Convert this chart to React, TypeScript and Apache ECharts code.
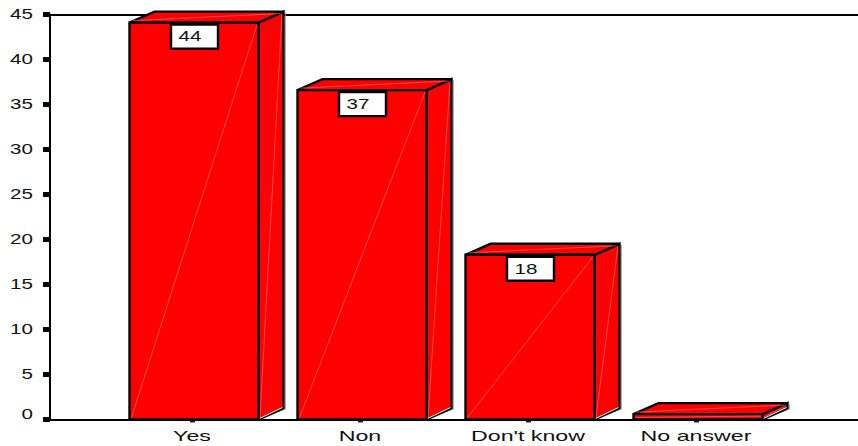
import React, { useEffect, useRef } from "react";
import * as echarts from "echarts";

const categories = ["Yes", "Non", "Don't know", "No answer"];
const barHeights = [44.1, 36.6, 18.3, 0.6];
const boxLabels = ["44", "37", "18", ""];
const yTicks = [0, 5, 10, 15, 20, 25, 30, 35, 40, 45];

const FONT = '14.5px "Liberation Sans", Arial, sans-serif';
const xMin = -142 / 168;
const xMax = 666 / 168;

export default function App() {
  const ref = useRef<HTMLDivElement>(null);
  useEffect(() => {
    const chart = echarts.init(ref.current!, undefined, { renderer: "svg" });
    const DX = 25;
    const DY = 11;
    const HALF = 64.5;
    const SHIFT = 2;
    const renderBar = (params: any, api: any) => {
      const i = api.value(0);
      const v = api.value(1);
      const c = api.coord([i, v]);
      const b = api.coord([i, 0]);
      const l = c[0] + SHIFT - HALF;
      const r = c[0] + SHIFT + HALF;
      const t = c[1];
      const y0 = b[1];
      const border = { stroke: "#000", lineWidth: 2.4, lineJoin: "miter" };
      const children: any[] = [
        {
          type: "polyline",
          shape: { points: [[r + DX + 1.8, t - DY + 1], [r + DX + 1.8, y0 - DY + 1]] },
          style: { stroke: "#999", lineWidth: 1, fill: "none" },
        },
        {
          type: "polygon",
          shape: { points: [[r, t], [r + DX, t - DY], [r + DX, y0 - DY], [r, y0]] },
          style: { fill: "#ff0000", ...border },
        },
        {
          type: "line",
          shape: { x1: r + 1, y1: y0 - 1, x2: r + DX - 1, y2: y0 - DY - 1 },
          style: { stroke: "#fff", lineWidth: 1 },
        },
        {
          type: "line",
          shape: { x1: r + 1.5, y1: y0 - 2, x2: r + DX - 1.5, y2: t - DY + 2 },
          style: { stroke: "#ff7a7a", lineWidth: 0.6 },
        },
        {
          type: "polygon",
          shape: { points: [[l, t], [l + DX, t - DY], [r + DX, t - DY], [r, t]] },
          style: { fill: "#ff0000", ...border },
        },
        {
          type: "line",
          shape: { x1: l + 3, y1: t - 2, x2: r + DX - 3, y2: t - DY + 2 },
          style: { stroke: "#ff7a7a", lineWidth: 0.6 },
        },
        {
          type: "rect",
          shape: { x: l, y: t, width: r - l, height: y0 - t },
          style: { fill: "#ff0000", ...border },
        },
      ];
      const label = boxLabels[params.dataIndex];
      if (label) {
        children.push(
          {
            type: "rect",
            shape: { x: c[0] + SHIFT - 23, y: t + 2, width: 47, height: 24 },
            style: { fill: "#fff", stroke: "#000", lineWidth: 2.4 },
          },
          {
            type: "text",
            x: c[0] + SHIFT - 4,
            y: t + 14,
            scaleX: 1.42,
            style: {
              text: label,
              font: FONT,
              fill: "#111",
              textAlign: "center",
              textVerticalAlign: "middle",
            },
          }
        );
      }
      children.push({
        type: "line",
        shape: { x1: l + 2, y1: y0 - 2, x2: r - 1.5, y2: t + 2 },
        style: { stroke: "#ff7a7a", lineWidth: 0.6 },
      });
      return { type: "group", children };
    };
    const renderYLabel = (params: any, api: any) => {
      const v = api.value(1);
      const p = api.coord([xMin, v]);
      return {
        type: "text",
        x: 33,
        y: p[1] + (v === 0 ? -5 : 0),
        scaleX: 1.42,
        style: {
          text: String(yTicks[params.dataIndex]),
          font: FONT,
          fill: "#111",
          textAlign: "right",
          textVerticalAlign: "middle",
        },
      };
    };
    const renderXLabel = (params: any, api: any) => {
      const p = api.coord([api.value(0), 0]);
      return {
        type: "text",
        x: p[0],
        y: 436,
        scaleX: 1.6,
        style: {
          text: categories[params.dataIndex],
          font: FONT,
          fill: "#111",
          textAlign: "center",
          textVerticalAlign: "middle",
        },
      };
    };
    chart.setOption({
      animation: false,
      backgroundColor: "#fff",
      grid: { left: 50, right: 0, top: 14.5, bottom: 26.5 },
      xAxis: [
        {
          type: "value",
          min: xMin,
          max: xMax,
          position: "bottom",
          splitLine: { show: false },
          axisLine: { show: true, onZero: false, lineStyle: { color: "#000", width: 2 } },
          axisTick: { show: true, customValues: [0, 1, 2, 3], length: 3, lineStyle: { color: "#222", width: 5 } },
          axisLabel: { show: false },
        },
        {
          type: "value",
          min: xMin,
          max: xMax,
          position: "top",
          splitLine: { show: false },
          axisLine: { show: true, onZero: false, lineStyle: { color: "#000", width: 2 } },
          axisTick: { show: false },
          axisLabel: { show: false },
        },
      ],
      yAxis: {
        type: "value",
        min: 0,
        max: 45,
        interval: 5,
        splitLine: { show: false },
        axisLine: { show: true, onZero: false, lineStyle: { color: "#000", width: 2 } },
        axisTick: { show: true, length: 7, lineStyle: { color: "#000", width: 5 } },
        axisLabel: { show: false },
      },
      series: [
        {
          type: "custom",
          renderItem: renderBar,
          data: barHeights.map((v, i) => [i, v]),
          encode: { x: 0, y: 1 },
          clip: false,
          silent: true,
        },
        {
          type: "custom",
          renderItem: renderYLabel,
          data: yTicks.map((v) => [xMin, v]),
          encode: { x: 0, y: 1 },
          clip: false,
          silent: true,
        },
        {
          type: "custom",
          renderItem: renderXLabel,
          data: categories.map((_, i) => [i, 0]),
          encode: { x: 0, y: 1 },
          clip: false,
          silent: true,
        },
      ],
    });
    return () => chart.dispose();
  }, []);
  return (
    <div
      ref={ref}
      style={{ position: "absolute", left: 0, top: 0, width: 858, height: 446, background: "#fff" }}
    />
  );
}
